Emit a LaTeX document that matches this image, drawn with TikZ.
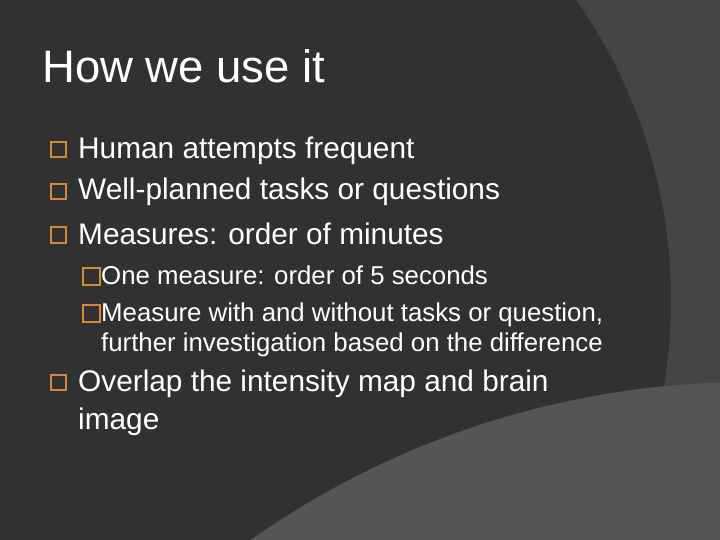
\documentclass[tikz,border=0pt]{standalone}
\usepackage{fontspec}
\setmainfont{Liberation Sans}
\usetikzlibrary{positioning}
\definecolor{slidebg}{HTML}{454545}
\definecolor{slidedark}{HTML}{313131}
\definecolor{slidelight}{HTML}{555555}
\definecolor{bulletorange}{HTML}{D5883A}
\tikzset{
  mainbox/.style={draw=bulletorange, line width=2pt, minimum size=15pt, inner sep=0pt},
  subbox/.style={draw=bulletorange, line width=2pt, minimum size=17pt, inner sep=0pt},
  maintext/.style={anchor=base west, text=white, font=\fontsize{29.8}{34}\selectfont, inner sep=0pt},
  subtext/.style={anchor=base west, text=white, font=\fontsize{25.8}{30}\selectfont, inner sep=0pt}
}
\begin{document}
\begin{tikzpicture}[x=1pt,y=-1pt]
    % Background
    \fill[slidebg] (0,0) rectangle (720,540);
    \clip (0,0) rectangle (720,540);
    \fill[slidedark] (150,300) circle (521);
    \fill[slidelight] (750,1250) circle (868);
    \useasboundingbox (0,0) rectangle (720,540);

    % Title
    \node[anchor=base west, text=white, font=\fontsize{45.5}{50}\selectfont, inner sep=0pt] (title) at (42,83) {How we use it};

    % Bullets
    \node[mainbox] (b1) at (58,150) {};
    \node[maintext] (t1) at (78,159) {Human attempts frequent};
    \node[mainbox] (b2) at (58,192) {};
    \node[maintext] (t2) at (78,200) {Well-planned tasks or questions};
    \node[mainbox] (b3) at (58,235) {};
    \node[maintext] (t3) at (78,244) {Measures: order of minutes};
    \node[subbox] (s1) at (91,276) {};
    \node[subtext] (u1) at (101,284) {One measure: order of 5 seconds};
    \node[subbox] (s2) at (91,313) {};
    \node[subtext] (u2) at (101,321) {Measure with and without tasks or question,};
    \node[subtext] (u3) at (101,351) {further investigation based on the difference};
    \node[mainbox] (b4) at (58,382) {};
    \node[maintext] (t4) at (78,391) {Overlap the intensity map and brain};
    \node[maintext] (t5) at (78,429) {image};
\end{tikzpicture}
\end{document}
